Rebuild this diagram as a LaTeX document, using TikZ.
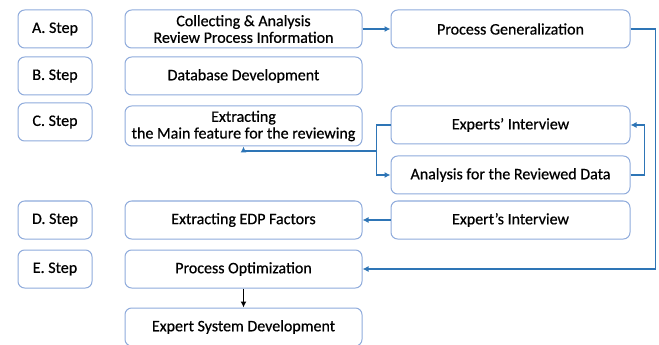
\documentclass[tikz,border=0pt]{standalone}
\usepackage{fontspec}
\setmainfont{Carlito}
\newfontfamily\boxfont{Carlito}[FakeBold=0.6]
\usetikzlibrary{arrows.meta}

\definecolor{boxline}{RGB}{142,170,219}
\definecolor{flowline}{RGB}{46,117,182}

\tikzset{
  box/.style={draw=boxline, rounded corners=5pt, minimum height=28.5pt,
    align=center, inner sep=1pt, line width=0.75pt,
    font=\boxfont\fontsize{12}{12.5}\selectfont},
  stepbox/.style={box, minimum width=55.5pt},
  midbox/.style={box, minimum width=177.75pt},
  rightbox/.style={box, minimum width=179.25pt},
  flow/.style={draw=flowline, line width=1.4pt, -{Latex[length=4.5pt,width=4.5pt]}},
}

\begin{document}
\begin{tikzpicture}[x=0.75pt, y=-0.75pt]
\useasboundingbox (0,0) rectangle (659,345);

% step labels
\node[stepbox] (stepA) at (55,29) {A. Step};
\node[stepbox] (stepB) at (55,76) {B. Step};
\node[stepbox] (stepC) at (55,122) {C. Step};
\node[stepbox] (stepD) at (55,220) {D. Step};
\node[stepbox] (stepE) at (55,269) {E. Step};

% middle column
\node[midbox] (collect) at (243.5,29) {Collecting \& Analysis\\Review Process Information};
\node[midbox] (database) at (243.5,76) {Database Development};
\node[midbox, minimum height=30pt] (mainfeat) at (243.5,126) {Extracting\\the Main feature for the reviewing};
\node[midbox] (edp) at (243.5,220) {Extracting EDP Factors};
\node[midbox] (optim) at (243.5,269) {Process Optimization};
\node[midbox] (expsys) at (243.5,327) {Expert System Development};

% right column
\node[rightbox] (general) at (510.5,29) {Process Generalization};
\node[rightbox] (experts) at (510.5,125) {Experts’ Interview};
\node[rightbox] (analysis) at (510.5,175) {Analysis for the Reviewed Data};
\node[rightbox] (expertD) at (510.5,220) {Expert’s Interview};

% connectors
\draw[flow] (collect.east) -- (general.west);
\draw[flow] (general.east) -- ++(25,0) |- (optim.east);
\draw[flow] (analysis.east) -- ++(14,0) |- (experts.east);
\draw[flow] (experts.west) -- ++(-14,0) coordinate (split) |- (analysis.west);
\coordinate (join) at (377,151);
\draw[flow] (join) -| (mainfeat.south);
\draw[flow] (expertD.west) -- (edp.east);
\draw[line width=1.4pt, -{Latex[length=4.5pt,width=4.5pt]}] (optim.south) -- (expsys.north);

\end{tikzpicture}
\end{document}
